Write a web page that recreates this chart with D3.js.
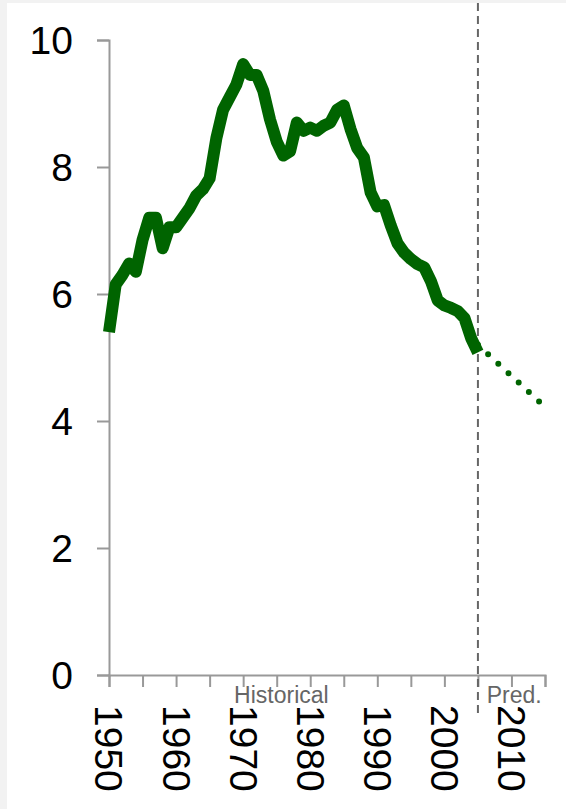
<!doctype html>
<html>
  <head>
    <meta charset="utf-8">
    <script src="https://cdn.jsdelivr.net/npm/d3@7"></script>
    <style>
      body {
        margin: 0;
        background-color: #f2f2f2;
        font-family: "Liberation Sans", Arial, sans-serif;
      }
      svg {
        display: block;
      }
      .axis path,
      .axis line {
        stroke: #999;
        stroke-width: 2;
      }
      .axis text {
        fill: #000;
        font-size: 39px;
        font-family: "Liberation Sans", Arial, sans-serif;
      }
      .period {
        fill: #666;
        font-size: 23px;
      }
    </style>
  </head>
  <body>
    <svg class="chart"></svg>

  <script>

    // historical series, one value per year
    const years = d3.range(1950, 2006)
    const values = [
      5.4, 6.15, 6.3, 6.48, 6.35, 6.85, 7.2, 7.2, 6.72, 7.05,
      7.05, 7.2, 7.35, 7.55, 7.65, 7.82, 8.45, 8.9, 9.1, 9.3,
      9.62, 9.45, 9.45, 9.2, 8.75, 8.4, 8.18, 8.25, 8.7, 8.57,
      8.62, 8.57, 8.65, 8.7, 8.9, 8.97, 8.6, 8.3, 8.15, 7.6,
      7.38, 7.4, 7.08, 6.8, 6.65, 6.55, 6.47, 6.42, 6.2, 5.9,
      5.82, 5.78, 5.73, 5.62, 5.3, 5.08
    ]

    // prediction
    const predYears = [2005, 2015]
    const predValues = [5.2, 4.22]

    const splitYear = 2005
    const yTicks = [0, 2, 4, 6, 8, 10]
    const xTicks = d3.range(1950, 2016, 5)
    const xLabels = [1950, 1960, 1970, 1980, 1990, 2000, 2010]

    const width = 566,
          height = 809

    const svg = d3.select("svg")
                .attr("width", width)
                .attr("height", height)

    // white plot panel
    svg.append("rect")
      .attr("x", 7)
      .attr("y", 3)
      .attr("width", width - 7)
      .attr("height", height - 3)
      .attr("fill", "white")

    const x = d3.scaleLinear()
                .domain([1950, 2015])
                .range([109, 545])

    const y = d3.scaleLinear()
                .domain([0, 10])
                .range([675, 40])

    const yAxis = d3.axisLeft(y)
                    .tickValues(yTicks)
                    .tickSize(12)
                    .tickPadding(24)

    svg.append("g")
        .attr("class", "axis")
        .attr("transform", "translate(" + x.range()[0] + ",0)")
        .call(yAxis)
      .selectAll("text")
        .attr("dy", "0.34em")

    const xAxis = d3.axisBottom(x)
                    .tickValues(xTicks)
                    .tickSize(12)
                    .tickFormat((d) => (xLabels.includes(d) ? d : ""))

    svg.append("g")
        .attr("class", "axis")
        .attr("transform", "translate(0," + y.range()[0] + ")")
        .call(xAxis)
      .selectAll("text")
        .attr("text-anchor", "start")
        .attr("transform", "rotate(90)")
        .attr("x", 30)
        .attr("y", 0)
        .attr("dy", "0.36em")

    // split between historical and predicted
    svg.append("line")
      .attr("x1", x(splitYear))
      .attr("x2", x(splitYear))
      .attr("y1", 3)
      .attr("y2", 714)
      .attr("stroke", "#666")
      .attr("stroke-width", 2)
      .attr("stroke-dasharray", "8,5")

    svg.append("text")
      .attr("class", "period")
      .attr("x", x(1975.7))
      .attr("y", 703)
      .attr("text-anchor", "middle")
      .text("Historical")

    svg.append("text")
      .attr("class", "period")
      .attr("x", x(2010.4))
      .attr("y", 703)
      .attr("text-anchor", "middle")
      .text("Pred.")

    const line = d3.line()
                   .x((d) => x(d[0]))
                   .y((d) => y(d[1]))

    svg.append("path")
      .datum(d3.zip(predYears, predValues))
      .attr("fill", "none")
      .attr("stroke", "#006400")
      .attr("stroke-width", 6)
      .attr("stroke-linecap", "round")
      .attr("stroke-dasharray", "0,13.9")
      .attr("d", line)

    svg.append("path")
      .datum(d3.zip(years, values))
      .attr("fill", "none")
      .attr("stroke", "#006400")
      .attr("stroke-width", 12)
      .attr("stroke-linejoin", "round")
      .attr("d", line)

  </script>
  </body>
</html>
